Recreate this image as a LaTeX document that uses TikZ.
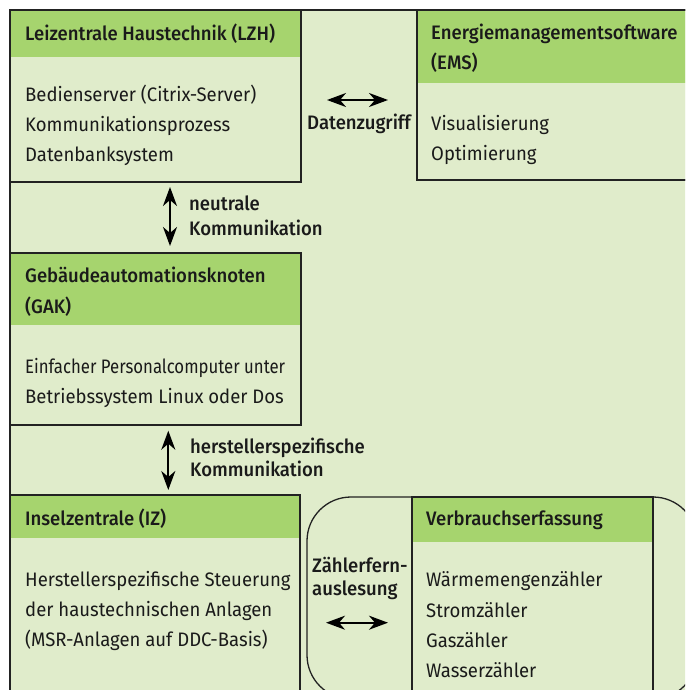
\documentclass[tikz,border=0pt]{standalone}
\usepackage{fontspec}
\IfFontExistsTF{Fira Sans Medium}{%
\setmainfont[UprightFeatures={FakeStretch=0.95},BoldFont={Fira Sans Medium},BoldFeatures={FakeStretch=0.95}]{Fira Sans}}{%
\setmainfont[FakeStretch=0.95]{Fira Sans}}
\usetikzlibrary{arrows.meta}
\definecolor{bgc}{HTML}{E0ECCB}
\definecolor{headc}{HTML}{A6D46E}
\definecolor{linec}{HTML}{222222}
\definecolor{txtc}{HTML}{1A1A1A}
\begin{document}
\begin{tikzpicture}[x=1pt,y=-1pt,
  line/.style={draw=linec,line width=1.3pt},
  box/.style={line, fill=bgc, rectangle, inner sep=0pt, outer sep=0pt, anchor=north west},
  head/.style={fill=headc},
  ttl/.style={anchor=base west, inner sep=0pt, font=\fontsize{19.5}{30}\selectfont\bfseries, text=txtc},
  txt/.style={anchor=base west, inner sep=0pt, font=\fontsize{19.5}{30}\selectfont, text=txtc},
  lbl/.style={anchor=base west, inner sep=0pt, font=\fontsize{19.5}{23}\selectfont\bfseries, text=txtc},
  dbl/.style={{Stealth[length=19pt,width=14pt,inset=6pt]}-{Stealth[length=19pt,width=14pt,inset=6pt]}, line width=2pt, black},
]
\useasboundingbox (0,0) rectangle (685,690);
\clip (0,0) rectangle (685,690);
\fill[bgc] (10,10) rectangle (700,700);
\draw[line] (10,700) -- (10,10) -- (700,10);

% LZH
\node[box, minimum width=291pt, minimum height=172pt] (lzh) at (10,10) {};
\fill[head] (lzh.north west) rectangle ([yshift=-47pt]lzh.north east);
\draw[line] (lzh.north west) rectangle (lzh.south east);
\node[ttl] (lzht) at (25,41) {Leizentrale Haustechnik (LZH)};
\node[txt] (lzh1) at (25,102) {Bedienserver (Citrix-Server)};
\node[txt] (lzh2) at (25,131.5) {Kommunikationsprozess};
\node[txt] (lzh3) at (25,161) {Datenbanksystem};

% EMS
\node[box, minimum width=300pt, minimum height=170pt] (ems) at (417,10) {};
\fill[head] (ems.north west) rectangle ([yshift=-73pt]ems.north east);
\draw[line] (ems.north west) rectangle (ems.south east);
\node[ttl] (emst1) at (431,39.5) {Energiemanagementsoftware};
\node[ttl] (emst2) at (431,70) {(EMS)};
\node[txt] (ems1) at (431,130.7) {Visualisierung};
\node[txt] (ems2) at (431,160.7) {Optimierung};

% Datenzugriff
\coordinate (ay) at (0,100);
\draw[dbl, shorten <=26pt, shorten >=29pt] (lzh.east |- ay) -- (ems.west |- ay);
\node[lbl, anchor=base] (dz) at (359,129.5) {Datenzugriff};

% GAK
\node[box, minimum width=291pt, minimum height=172pt] (gak) at (10,253) {};
\fill[head] (gak.north west) rectangle ([yshift=-72pt]gak.north east);
\draw[line] (gak.north west) rectangle (gak.south east);
\node[ttl] (gakt1) at (25,282.7) {Gebäudeautomationsknoten};
\node[ttl] (gakt2) at (25,313) {(GAK)};
\node[txt] (gak1) at (25,373) {\scalebox{0.905}[1]{Einfacher Personalcomputer unter}};
\node[txt] (gak2) at (25,403.3) {Betriebssystem Linux oder Dos};

% arrow LZH - GAK
\coordinate (ax1) at (170,0);
\draw[dbl, shorten <=5pt, shorten >=7pt] (lzh.south -| ax1) -- (gak.north -| ax1);
\node[lbl] (n1) at (189,210.7) {neutrale};
\node[lbl] (n2) at (189,235) {Kommunikation};

% IZ
\node[box, minimum width=290pt, minimum height=210pt] (iz) at (10,495) {};
\fill[head] (iz.north west) rectangle ([yshift=-43.3pt]iz.north east);
\draw[line] (iz.north west) rectangle (iz.south east);
\node[ttl] (izt) at (25,525) {Inselzentrale (IZ)};
\node[txt] (iz1) at (25,586) {Herstellerspezifische Steuerung};
\node[txt] (iz2) at (25,616) {der haustechnischen Anlagen};
\node[txt] (iz3) at (25,646) {(MSR-Anlagen auf DDC-Basis)};

% arrow GAK - IZ
\coordinate (ax2) at (168.3,0);
\draw[dbl, shorten <=5.7pt, shorten >=5pt] (gak.south -| ax2) -- (iz.north -| ax2);
\node[lbl] (h1) at (190,453.3) {herstellerspezifische};
\node[lbl] (h2) at (190,476.7) {Kommunikation};

% rounded frame
\draw[line, rounded corners=44pt] (307,497) rectangle (697,699);

% Verbrauchserfassung
\node[box, minimum width=241pt, minimum height=210pt] (vb) at (412,497) {};
\fill[head] (vb.north west) rectangle ([yshift=-45pt]vb.north east);
\draw[line] (vb.north west) rectangle (vb.south east);
\node[ttl] (vbt) at (426,525) {Verbrauchserfassung};
\node[txt] (vb1) at (426,586.7) {Wärmemengenzähler};
\node[txt] (vb2) at (426,617.3) {Stromzähler};
\node[txt] (vb3) at (426,647.3) {Gaszähler};
\node[txt] (vb4) at (426,677.3) {Wasserzähler};

% Zaehlerfernauslesung
\node[lbl] (z1) at (312,572) {Zählerfern-};
\node[lbl] (z2) at (312,595) {auslesung};
\coordinate (ay2) at (0,622.7);
\draw[dbl, shorten <=26pt, shorten >=24pt] (iz.east |- ay2) -- (vb.west |- ay2);
\end{tikzpicture}
\end{document}
